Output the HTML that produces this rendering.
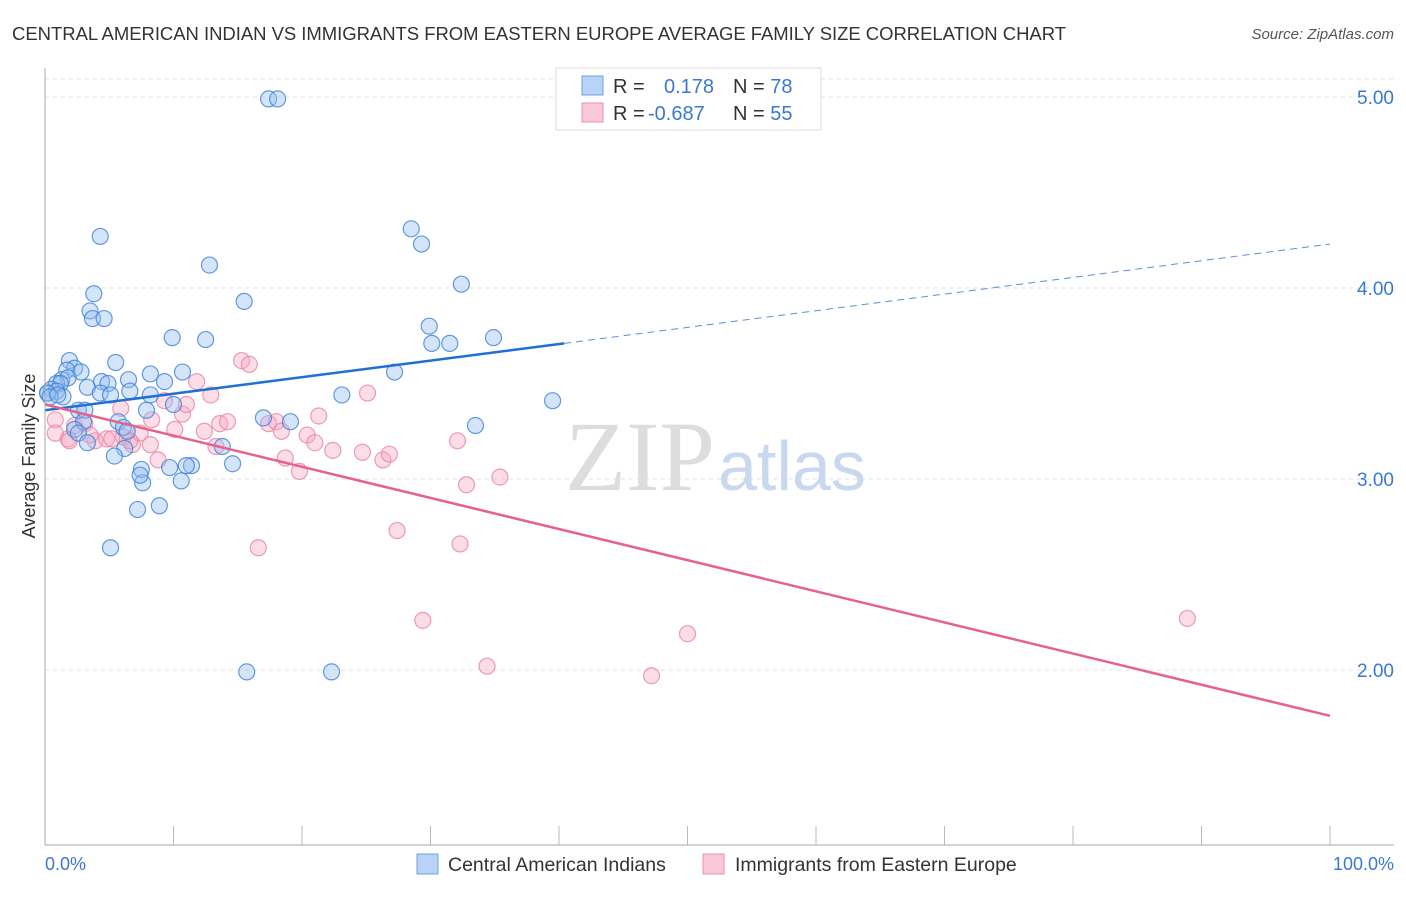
<!DOCTYPE html>
<html><head><meta charset="utf-8"><style>
body{margin:0;background:#fff;font-family:"Liberation Sans",sans-serif;}
</style></head><body>
<svg id="chart" width="1406" height="892" xmlns="http://www.w3.org/2000/svg" font-family="Liberation Sans, sans-serif">
<text x="12" y="40" font-size="18.5" fill="#333" textLength="1054">CENTRAL AMERICAN INDIAN VS IMMIGRANTS FROM EASTERN EUROPE AVERAGE FAMILY SIZE CORRELATION CHART</text>
<text x="1394" y="39" font-size="15" fill="#555" font-style="italic" text-anchor="end">Source: ZipAtlas.com</text>
<g id="grid"></g>
<text x="715" y="490" font-size="100" fill="#ddd" text-anchor="end" font-family="Liberation Serif, serif">ZIP</text>
<text x="718" y="490" font-size="70" fill="#c8d8ee">atlas</text>
<g id="marks"></g>
<line x1="45" y1="68" x2="45" y2="845" stroke="#aaa"/>
<line x1="45" y1="845" x2="1394" y2="845" stroke="#aaa"/>
<text x="35" y="456" font-size="18" fill="#333" text-anchor="middle" transform="rotate(-90 35 456)">Average Family Size</text>
<text x="45" y="870" font-size="18" fill="#3a78d4">0.0%</text>
<text x="1394" y="870" font-size="18" fill="#3a78d4" text-anchor="end">100.0%</text>
<g>
<rect x="556" y="68" width="265" height="62" fill="#fff" stroke="#ddd"/>
<rect x="582" y="76" width="21" height="19" fill="#b9d3f6" stroke="#6f9fe0"/>
<rect x="582" y="103" width="21" height="19" fill="#f9c8d6" stroke="#ec90ab"/>
<text x="613" y="93" font-size="20" fill="#333">R = <tspan fill="#3a78d4" x="664">0.178</tspan><tspan x="733" fill="#333">N = </tspan><tspan fill="#3a78d4">78</tspan></text>
<text x="613" y="120" font-size="20" fill="#333">R = <tspan fill="#3a78d4" x="648">-0.687</tspan><tspan x="733" fill="#333">N = </tspan><tspan fill="#3a78d4">55</tspan></text>
</g>
<g>
<rect x="417" y="854" width="21" height="20" fill="#b9d3f6" stroke="#6f9fe0"/>
<text x="448" y="871" font-size="19.5" fill="#333">Central American Indians</text>
<rect x="703" y="854" width="21" height="20" fill="#f9c8d6" stroke="#ec90ab"/>
<text x="735" y="871" font-size="19.5" fill="#333">Immigrants from Eastern Europe</text>
</g>
</svg>
<script>
const yTicks=[2,3,4,5];
const yTickLabels=["2.00","3.00","4.00","5.00"];
const blueX=[17.4,18.1,4.3,12.8,28.5,29.3,32.4,3.8,15.5,3.5,3.7,4.6,9.9,12.5,29.9,30.1,31.5,34.9,1.9,5.5,2.3,1.7,2.8,8.2,10.7,27.2,1.3,1.8,0.9,1.2,3.3,4.4,4.9,6.5,9.3,0.5,0.2,0.9,4.3,5.1,6.6,8.2,1.4,10.0,23.1,39.5,2.6,3.1,7.9,17.0,19.1,3.0,5.7,6.1,2.3,2.6,3.3,6.4,6.2,5.4,13.8,7.5,9.7,11.4,11.0,14.6,33.5,7.6,7.4,10.6,7.2,8.9,5.1,15.7,22.3,0.2,0.4,1.0];
const blueY=[4.99,4.99,4.27,4.12,4.31,4.23,4.02,3.97,3.93,3.88,3.84,3.84,3.74,3.73,3.80,3.71,3.71,3.74,3.62,3.61,3.58,3.57,3.56,3.55,3.56,3.56,3.52,3.53,3.50,3.50,3.48,3.51,3.50,3.52,3.51,3.47,3.45,3.46,3.45,3.44,3.46,3.44,3.43,3.39,3.44,3.41,3.36,3.36,3.36,3.32,3.30,3.30,3.30,3.27,3.26,3.24,3.19,3.25,3.16,3.12,3.17,3.05,3.06,3.07,3.07,3.08,3.28,2.98,3.02,2.99,2.84,2.86,2.64,1.99,1.99,3.45,3.43,3.44];
const pinkX=[0.8,0.8,1.8,2.3,1.9,3.1,3.9,4.8,5.9,6.1,6.8,7.4,8.3,8.8,9.3,10.1,10.7,11.0,11.8,12.4,12.9,13.3,13.6,14.2,15.3,15.9,16.6,17.4,18.0,18.4,18.7,19.8,20.4,21.0,21.3,22.4,24.7,25.1,26.3,26.8,27.4,29.4,32.1,32.3,32.8,34.4,35.4,47.2,50.0,88.9,6.6,5.2,3.5,8.2];
const pinkY=[3.31,3.24,3.21,3.28,3.20,3.29,3.20,3.21,3.37,3.22,3.18,3.24,3.31,3.10,3.41,3.26,3.34,3.39,3.51,3.25,3.44,3.17,3.29,3.30,3.62,3.60,2.64,3.29,3.30,3.25,3.11,3.04,3.23,3.19,3.33,3.15,3.14,3.45,3.10,3.13,2.73,2.26,3.20,2.66,2.97,2.02,3.01,1.97,2.19,2.27,3.20,3.21,3.23,3.18];
const blueLine=[[0,3.36],[40.4,3.71],[100,4.23]];
const pinkLine=[[0,3.39],[100,1.76]];
const X=v=>45+v*12.85, Y=v=>97+(5-v)*191;
const NS="http://www.w3.org/2000/svg";
const grid=document.getElementById('grid'), svg=document.getElementById('chart'), marks=document.getElementById('marks');
yTicks.forEach((t,i)=>{
 const l=document.createElementNS(NS,'line');
 l.setAttribute('x1',45);l.setAttribute('x2',1394);l.setAttribute('y1',Y(t));l.setAttribute('y2',Y(t));
 l.setAttribute('stroke','#e0e0e0');l.setAttribute('stroke-dasharray','4 4');
 
 
 grid.appendChild(l);
 const tx=document.createElementNS(NS,'text');
 tx.setAttribute('x',1394);tx.setAttribute('y',Y(t)+7);tx.setAttribute('text-anchor','end');
 tx.setAttribute('font-size','19');tx.setAttribute('fill','#3a78d4');tx.textContent=yTickLabels[i];
 
 
 grid.appendChild(tx);
});
const topLine=document.createElementNS(NS,'line');
topLine.setAttribute('x1',45);topLine.setAttribute('x2',1394);topLine.setAttribute('y1',79);topLine.setAttribute('y2',79);
topLine.setAttribute('stroke','#e0e0e0');topLine.setAttribute('stroke-dasharray','4 4');


grid.appendChild(topLine);
for(let i=1;i<=10;i++){
 const l=document.createElementNS(NS,'line');
 const x=X(i*10);
 l.setAttribute('x1',x);l.setAttribute('x2',x);l.setAttribute('y1',826);l.setAttribute('y2',845);l.setAttribute('stroke','#bbb');
 
 
 grid.appendChild(l);
}
function dots(xs,ys,fill,stroke,name){
 xs.forEach((x,i)=>{
  const c=document.createElementNS(NS,'circle');
  c.setAttribute('cx',X(x));c.setAttribute('cy',Y(ys[i]));c.setAttribute('r',8);
  c.setAttribute('fill',fill);c.setAttribute('stroke',stroke);c.setAttribute('stroke-width','1.2');
  
  
  marks.appendChild(c);
 });
}
dots(pinkX,pinkY,'rgba(246,170,195,0.4)','rgba(236,130,165,0.8)','pink-point');
dots(blueX,blueY,'rgba(150,190,240,0.4)','rgba(60,130,215,0.8)','blue-point');
function seg(a,b,color,dash,name){
 const l=document.createElementNS(NS,'line');
 l.setAttribute('x1',X(a[0]));l.setAttribute('y1',Y(a[1]));l.setAttribute('x2',X(b[0]));l.setAttribute('y2',Y(b[1]));
 l.setAttribute('stroke',color);l.setAttribute('stroke-width',dash?1:2.5);
 if(dash)l.setAttribute('stroke-dasharray','7 5');
 
 
 marks.appendChild(l);
}
seg(blueLine[0],blueLine[1],'#1f6fd6',false,'blue-trend-line');
seg(blueLine[1],blueLine[2],'#5b8fd8',true,'blue-trend-extension');
seg(pinkLine[0],pinkLine[1],'#e8608c',false,'pink-trend-line');
</script>
</body></html>
